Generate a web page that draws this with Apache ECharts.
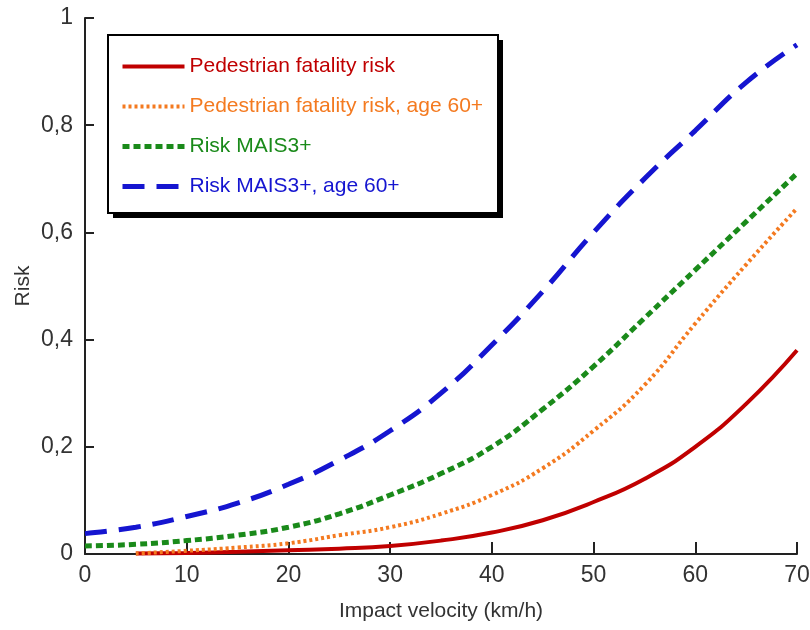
<!DOCTYPE html>
<html>
<head>
<meta charset="utf-8">
<script src="https://cdn.jsdelivr.net/npm/echarts@6.0.0/dist/echarts.min.js"></script>
<style>
  html, body { margin: 0; padding: 0; background: #fff; }
  #chart { width: 810px; height: 630px; }
</style>
</head>
<body>
<div id="chart"></div>
<script>
// ===== 数据 =====
const velocity = [0, 5, 10, 15, 20, 25, 30, 35, 40, 45, 50, 55, 60, 65, 70];
const fatality = [null, 0.001, 0.002, 0.004, 0.007, 0.010, 0.015, 0.025, 0.040, 0.063, 0.097, 0.140, 0.200, 0.280, 0.380];
const fatality60 = [null, 0.001, 0.006, 0.012, 0.020, 0.035, 0.050, 0.075, 0.110, 0.160, 0.230, 0.315, 0.430, 0.540, 0.645];
const mais3 = [0.015, 0.018, 0.025, 0.035, 0.050, 0.075, 0.110, 0.150, 0.200, 0.270, 0.350, 0.440, 0.530, 0.620, 0.710];
const mais3age60 = [0.038, 0.050, 0.070, 0.095, 0.130, 0.175, 0.230, 0.300, 0.390, 0.490, 0.600, 0.700, 0.790, 0.880, 0.950];

const seriesNames = [
  'Pedestrian fatality risk',
  'Pedestrian fatality risk, age 60+',
  'Risk MAIS3+',
  'Risk MAIS3+, age 60+'
];
const xTicks = { min: 0, max: 70, interval: 10 };
const yTicks = { min: 0, max: 1, interval: 0.2 };

function pairs(values) {
  return velocity.map((v, i) => [v, values[i]]);
}

const chart = echarts.init(document.getElementById('chart'));

const FONT = '"Liberation Sans", Arial, sans-serif';

const styles = [
  { color: '#c00000', width: 4, type: 'solid' },
  { color: '#f47a20', width: 4, type: [3, 3] },
  { color: '#1a8a1a', width: 5, type: [7, 4] },
  { color: '#1515d0', width: 5, type: [22, 12] }
];
const allData = [fatality, fatality60, mais3, mais3age60];

chart.setOption({
  animation: false,
  backgroundColor: '#fff',
  textStyle: { fontFamily: FONT },
  grid: { left: 85, right: 13, top: 18, bottom: 76, outerBoundsMode: 'none', containLabel: false },
  // 图例外框（带黑色阴影）
  graphic: [
    { type: 'rect', z: 1, shape: { x: 113, y: 40, width: 390, height: 178 }, style: { fill: '#000' } },
    { type: 'rect', z: 2, shape: { x: 108, y: 35, width: 390, height: 178 }, style: { fill: '#fff', stroke: '#000', lineWidth: 2 } }
  ],
  legend: {
    z: 5,
    orient: 'vertical',
    left: 108,
    top: 35,
    padding: [21, 12, 16, 12],
    itemWidth: 62,
    itemHeight: 14,
    itemGap: 19,
    itemStyle: { opacity: 0 },
    data: seriesNames.map((name, i) => ({
      name: name,
      lineStyle: { width: styles[i].width, type: styles[i].type, color: styles[i].color }
    })),
    formatter: name => '{' + 's' + seriesNames.indexOf(name) + '|' + name + '}',
    textStyle: {
      fontSize: 21,
      rich: {
        s0: { color: '#c00000', fontSize: 21, lineHeight: 25 },
        s1: { color: '#f47a20', fontSize: 21, lineHeight: 25 },
        s2: { color: '#1a8a1a', fontSize: 21, lineHeight: 25 },
        s3: { color: '#1515d0', fontSize: 21, lineHeight: 25 }
      }
    }
  },
  xAxis: {
    type: 'value',
    min: xTicks.min,
    max: xTicks.max,
    interval: xTicks.interval,
    name: 'Impact velocity (km/h)',
    nameLocation: 'middle',
    nameGap: 47,
    nameTextStyle: { fontSize: 21, color: '#333' },
    axisLine: { lineStyle: { color: '#222', width: 2 } },
    axisTick: { inside: true, length: 12, lineStyle: { color: '#222', width: 2 } },
    axisLabel: { fontSize: 23, color: '#333', margin: 10 },
    splitLine: { show: false }
  },
  yAxis: {
    type: 'value',
    min: yTicks.min,
    max: yTicks.max,
    interval: yTicks.interval,
    name: 'Risk',
    nameLocation: 'middle',
    nameGap: 51,
    nameMoveOverlap: false,
    nameTextStyle: { fontSize: 21, color: '#333' },
    axisLine: { show: true, lineStyle: { color: '#222', width: 2 } },
    axisTick: { show: true, inside: true, length: 9, lineStyle: { color: '#222', width: 2 } },
    axisLabel: {
      fontSize: 23,
      color: '#333',
      margin: 12,
      formatter: v => String(+v.toFixed(1)).replace('.', ',')
    },
    splitLine: { show: false }
  },
  series: seriesNames.map((name, i) => ({
    name: name,
    type: 'line',
    smooth: true,
    symbol: 'none',
    connectNulls: false,
    color: styles[i].color,
    lineStyle: { color: styles[i].color, width: styles[i].width, type: styles[i].type },
    data: pairs(allData[i])
  }))
});
</script>
</body>
</html>
